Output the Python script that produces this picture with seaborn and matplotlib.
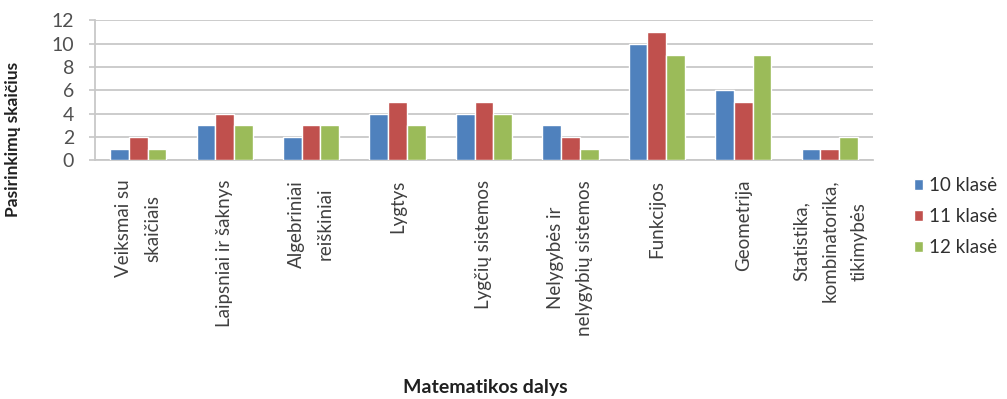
import matplotlib
matplotlib.use("Agg")
import matplotlib.pyplot as plt
import seaborn as sns
import pandas as pd

categories = [
    "Veiksmai su\nskaičiais",
    "Laipsniai ir šaknys",
    "Algebriniai\nreiškiniai",
    "Lygtys",
    "Lygčių sistemos",
    "Nelygybės ir\nnelygybių sistemos",
    "Funkcijos",
    "Geometrija",
    "Statistika,\nkombinatorika,\ntikimybės",
]
series_names = ["10 klasė", "11 klasė", "12 klasė"]
values_10 = [1, 3, 2, 4, 4, 3, 10, 6, 1]
values_11 = [2, 4, 3, 5, 5, 2, 11, 5, 1]
values_12 = [1, 3, 3, 3, 4, 1, 9, 9, 2]
colors = ["#4F81BD", "#C0504D", "#9BBB59"]

rows = []
for name, vals in zip(series_names, [values_10, values_11, values_12]):
    for cat, v in zip(categories, vals):
        rows.append({"Kategorija": cat, "Klasė": name, "Skaičius": v})
df = pd.DataFrame(rows)

sns.set_theme(style="white")
plt.rcParams["font.family"] = ["Lato", "DejaVu Sans"]

fig = plt.figure(figsize=(10.07, 3.99), dpi=100)
ax = fig.add_axes([0.0943, 0.598, 0.7726, 0.351])

sns.barplot(data=df, x="Kategorija", y="Skaičius", hue="Klasė",
            palette=colors, width=0.65, gap=0, saturation=1,
            order=categories, hue_order=series_names, ax=ax, zorder=3)

ax.set_ylim(0, 12)
ax.set_yticks(range(0, 13, 2))
ax.set_xlim(-0.5, len(categories) - 0.5)
ax.yaxis.grid(True, color="#C8C8C8", linewidth=1.3, zorder=0)
ax.set_axisbelow(True)
for side in ["top", "right"]:
    ax.spines[side].set_visible(False)
for side in ["left", "bottom"]:
    ax.spines[side].set_color("#C8C8C8")
    ax.spines[side].set_linewidth(1.3)

ax.tick_params(axis="y", labelsize=14, colors="#505050", length=4,
               left=True, color="#C8C8C8", pad=11)
for t in ax.yaxis.get_major_ticks():
    t.tick1line.set_markeredgecolor("#C8C8C8")
ax.tick_params(axis="x", length=0, pad=14)
ax.set_xticks(range(len(categories)))
ax.set_xticklabels(categories, rotation=90, ha="center", va="top",
                   fontsize=13.5, color="#404040")
for lbl in ax.get_xticklabels():
    lbl.set_multialignment("center")
    lbl.set_linespacing(1.85)

ax.set_xlabel("")
ax.set_ylabel("Pasirinkimų skaičius", fontsize=12.5, fontweight="bold",
              color="#202020")
ax.yaxis.set_label_coords(-0.095, 0.15)

fig.text(0.482, 0.028, "Matematikos dalys", ha="center", va="center",
         fontsize=14, fontweight="bold", color="#202020")

handles, labels = ax.get_legend_handles_labels()
ax.legend_.remove()
fig.legend(handles, labels, loc="upper left", bbox_to_anchor=(0.896, 0.585),
           frameon=False, fontsize=13.5, handlelength=0.5, handleheight=0.5,
           handletextpad=0.35, labelspacing=0.75, labelcolor="#303030",
           borderaxespad=0.2)

fig.savefig("out.png", dpi=100, facecolor="white")
